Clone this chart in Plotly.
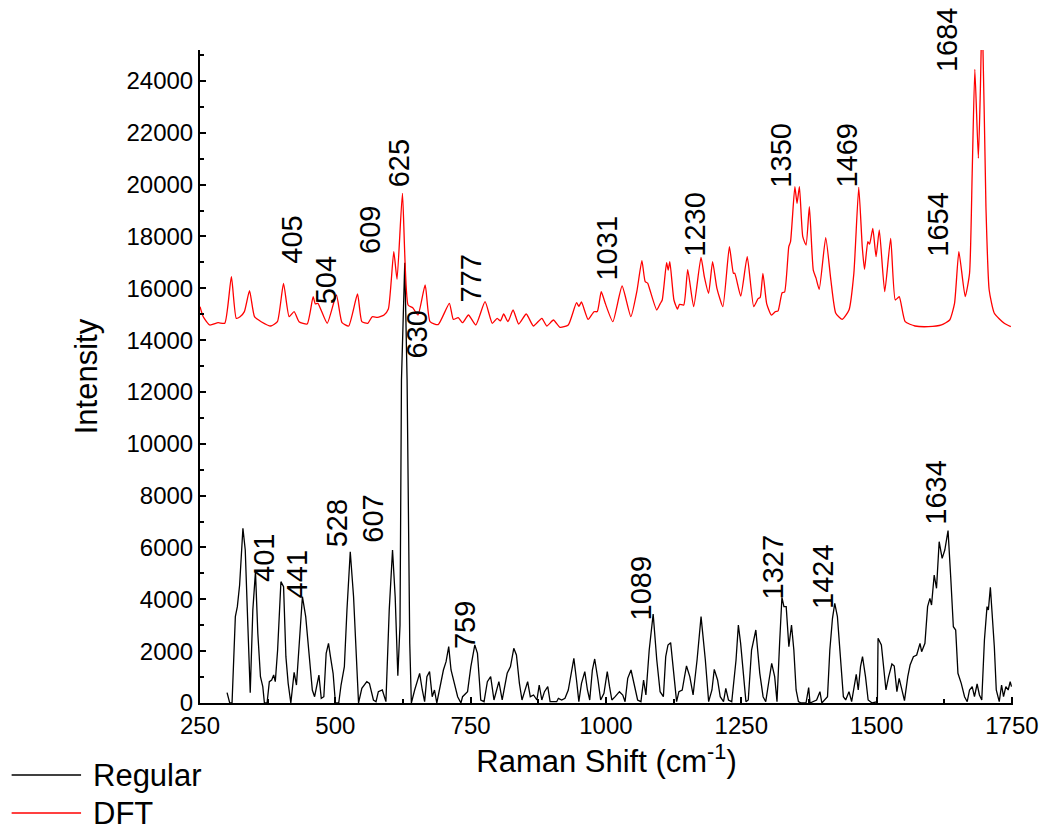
import plotly.graph_objects as go

# ---------------- data ----------------
regular_x = [300.0, 304.9, 309.2, 315.3, 319.0, 323.2, 329.3, 333.6, 338.5, 342.8, 347.6, 352.5, 356.8, 361.7, 366.0,
             369.0, 373.9, 378.1, 382.4, 386.1, 389.1, 393.4, 399.5, 404.4, 408.7, 412.9, 417.8, 423.9, 428.2, 433.1,
             439.2, 445.3, 451.4, 457.5, 461.7, 465.4, 469.7, 474.0, 478.8, 483.1, 487.4, 491.0, 495.9, 500.2, 506.3,
             510.6, 516.7, 521.5, 527.6, 533.7, 539.8, 542.9, 549.0, 558.2, 563.0, 570.4, 575.2, 579.5, 586.8, 593.5,
             599.6, 605.7, 610.6, 615.5, 619.5, 622.2, 628.3, 632.6, 637.5, 640.5, 646.6, 650.9, 655.8, 660.7, 665.0,
             669.2, 674.1, 679.0, 683.2, 687.5, 693.6, 699.7, 704.6, 709.5, 713.8, 719.9, 726.0, 732.1, 735.1, 744.3,
             750.4, 757.7, 762.6, 768.7, 774.8, 780.9, 787.0, 793.1, 802.2, 808.3, 817.5, 823.6, 829.7, 834.6, 840.1,
             844.9, 855.3, 860.2, 866.3, 872.4, 876.7, 881.5, 886.4, 892.5, 896.8, 909.0, 912.1, 918.2, 924.3, 930.4,
             935.2, 940.7, 945.6, 949.9, 954.8, 960.9, 965.8, 970.0, 974.9, 979.2, 985.3, 990.2, 996.3, 1002.4, 1006.6,
             1010.9, 1017.0, 1024.9, 1031.0, 1035.3, 1040.2, 1046.3, 1052.4, 1058.5, 1064.6, 1069.5, 1073.8, 1079.9,
             1087.2, 1093.9, 1100.0, 1106.1, 1110.4, 1114.6, 1119.5, 1125.6, 1130.5, 1134.8, 1140.9, 1145.2, 1148.8,
             1154.9, 1161.0, 1168.3, 1175.7, 1183.6, 1189.7, 1195.8, 1200.1, 1206.2, 1211.1, 1217.2, 1221.4, 1226.3,
             1232.4, 1240.3, 1244.6, 1248.8, 1253.7, 1258.6, 1262.9, 1269.0, 1276.9, 1284.2, 1290.3, 1295.2, 1301.3,
             1306.2, 1311.7, 1316.0, 1320.8, 1325.1, 1328.8, 1333.0, 1337.9, 1342.8, 1347.1, 1351.3, 1355.6, 1360.5,
             1369.6, 1374.5, 1377.0, 1389.2, 1395.3, 1398.9, 1409.3, 1413.6, 1418.5, 1422.7, 1427.6, 1433.7, 1438.6,
             1442.9, 1449.0, 1453.9, 1458.1, 1462.4, 1466.1, 1470.3, 1474.0, 1479.5, 1484.4, 1491.7, 1501.4, 1502.7,
             1508.8, 1513.1, 1517.3, 1522.2, 1528.3, 1532.6, 1537.5, 1541.7, 1546.6, 1551.5, 1557.6, 1561.9, 1568.0,
             1574.1, 1580.2, 1583.2, 1589.3, 1594.2, 1598.5, 1601.5, 1606.4, 1610.7, 1615.6, 1621.1, 1626.0, 1632.0,
             1636.9, 1641.8, 1646.1, 1650.3, 1656.4, 1662.5, 1667.4, 1671.7, 1676.6, 1680.8, 1685.7, 1690.0, 1694.3,
             1699.2, 1704.0, 1706.5, 1710.2, 1714.4, 1717.5, 1721.1, 1726.6, 1730.9, 1734.5, 1738.8, 1743.1, 1746.8,
             1749.2]
regular_y = [399, 0, 0, 3331, 3717, 4552, 6739, 5903, 2945, 399, 3588, 5067, 2688, 1016, 630,
             0, 0, 823, 887, 1080, 823, 2045, 4681, 4488, 1788, 759, 0, 1183, 694, 2045,
             4102, 3331, 2045, 502, 244, 694, 1080, 180, 244, 1916, 2302, 1788, 1145, 0, 0,
             694, 1402, 3588, 5838, 4102, 1016, 0, 566, 823, 759, 116, 51, 437, 502, 51,
             3588, 5903, 4102, 1055, 3000, 12460, 16987, 12460, 2303, 0, 502, 823, 1145, 502, 51,
             1016, 1209, 244, 502, 0, 694, 1273, 1595, 2173, 1273, 759, 244, 0, 244, 437,
             1402, 2238, 1916, 116, 51, 823, 1016, 116, 823, 116, 1145, 1402, 2109, 1852, 759,
             116, 823, 244, 309, 116, 694, 116, 437, 630, 51, 51, 180, 116, 180, 502,
             1016, 1723, 887, 51, 759, 1209, 502, 116, 1273, 1698, 887, 116, 373, 1209, 630,
             116, 244, 437, 309, 51, 952, 1273, 694, 116, 51, 887, 309, 2045,
             3434, 1659, 437, 244, 1788, 2238, 2328, 887, 51, 437, 502, 1016, 1428,
             1016, 309, 1659, 3331, 1659, 51, 502, 1299, 887, 244, 51, 566, 116,
             51, 1659, 3009, 2302, 1016, 51, 116, 2045, 2816, 1145, 244, 51, 887,
             1530, 1016, 51, 2302, 4077, 3717, 3717, 2173, 3009, 2045, 502, 51, 0,
             0, 592, 0, 116, 437, 0, 244, 2045, 3267, 3845, 3331, 1788, 244,
             116, 437, 51, 630, 1106, 502, 1402, 1788, 1016, 116, 0, 51, 2495,
             2238, 1273, 502, 1016, 1505, 1428, 437, 952, 502, 90, 1016, 1466, 1788,
             1852, 2302, 1981, 2302, 3717, 4038, 3781, 4938, 4424, 6224, 5581, 5903, 6649,
             4874, 2945, 2816, 1145, 759, 244, 51, 502, 630, 244, 733, 309, 116,
             2431, 3717, 3588, 4463, 3202, 2173, 502, 51, 694, 244, 630, 502, 823,
             630]

dft_x = [250, 256, 268, 283.5, 295.8, 308, 317, 324, 332, 341.5, 350.7, 363, 381, 393, 404.3, 414.7, 423.9, 433,
         448, 459, 463, 467.8, 485, 502, 512.4, 524.6, 541, 549, 560, 568, 578, 590, 598, 608, 614, 624, 634.4,
         643, 652.7, 666, 675, 690, 710.7, 718, 727, 735, 746, 759.5, 776.6, 790, 799, 805, 811, 819, 828.4,
         838.8, 852.8, 866, 881.5, 890.7, 903, 915, 930.4, 945.6, 950, 954.7, 967, 978, 984, 991.3, 998.7,
         1012.7, 1029.8, 1046, 1057, 1066.4, 1072.5, 1077, 1081, 1093.8, 1100, 1104, 1112, 1115, 1118, 1125.6,
         1132, 1136, 1143.7, 1151, 1162, 1175.6, 1181.7, 1189.6, 1197, 1205, 1216, 1228, 1235.5, 1238, 1249,
         1261, 1273, 1281, 1285, 1290, 1297, 1305.6, 1313, 1318, 1325.5, 1330, 1337.8, 1341, 1349, 1353,
         1357.4, 1363.6, 1369.7, 1375.8, 1383, 1388, 1394, 1406, 1415.5, 1424.6, 1436.7, 1449, 1458, 1467,
         1473.5, 1477.7, 1483.8, 1487, 1493, 1499, 1505, 1515, 1526, 1534.5, 1541.8, 1552.8, 1571, 1595.5,
         1620, 1635, 1644, 1652, 1663.7, 1671.7, 1676.6, 1681.5, 1688, 1691.7, 1695, 1702, 1708, 1717.5,
         1735.8, 1748]
dft_y = [15290, 14900, 14584, 14672, 14650, 16448, 14840, 14900, 15100, 15908, 14904, 14711, 14545, 14711, 16191,
         14904, 15096, 14711, 14622, 15675, 15400, 15420, 14650, 15740, 14672, 14545, 15779, 14711, 14650, 14900,
         14880, 14969, 15200, 17412, 16346, 19664, 15355, 15250, 14969, 16127, 14711, 14600, 15420, 14800, 14870,
         14672, 14969, 14584, 15483, 14650, 14840, 14740, 15008, 14711, 15162, 14622, 15008, 14545, 14840, 14545,
         14776, 14495, 14584, 15445, 15300, 15470, 14800, 15096, 15100, 15868, 15420, 14711, 16088, 14904, 15868,
         17064, 16254, 16200, 15950, 15162, 15400, 15550, 16987, 16700, 17026, 15548, 15200, 15380, 15355, 16717,
         15290, 17194, 16447, 15806, 17026, 15998, 15290, 17604, 16577, 16580, 15700, 17218, 15290, 15600, 15650,
         16577, 15400, 14969, 15100, 15130, 15830, 15850, 17604, 17800, 19920, 19278, 19920, 17990, 17670, 19148,
         16705, 16400, 15960, 17952, 16320, 15035, 14803, 15162, 16577, 19895, 17604, 16730, 17797, 17700, 18312,
         17218, 18248, 15868, 17926, 15548, 15675, 14711, 14545, 14518, 14584, 14776, 15420, 17412, 15675, 16577,
         20437, 24449, 21015, 23650, 26800, 19148, 15933, 15035, 14650, 14518]

regular_labels = ["401", "441", "528", "607", "759", "1089", "1327", "1424", "1634"]
dft_labels = ["405", "504", "609", "625", "630", "777", "1031", "1230", "1350", "1469", "1654", "1684"]

x_ticks = [250, 500, 750, 1000, 1250, 1500, 1750]
y_ticks = [0, 2000, 4000, 6000, 8000, 10000, 12000, 14000, 16000, 18000, 20000, 22000, 24000]

series_names = ["Regular", "DFT"]

# ---------------- layout / style ----------------
FONT = "Liberation Sans, Arial, sans-serif"
# label anchor positions: (x in data units, y in data units or paper units if flagged)
regular_label_pos = [(367.2, 5613, "y"), (429.9, 4977, "y"), (503.2, 6933, "y"), (570.3, 7126, "y"),
                     (739.7, 3009, "y"), (1064.6, 4456, "y"), (1308.6, 5228, "y"), (1399.6, 4873, "y"),
                     (1608.2, 8121, "y")]
dft_label_pos = [(419.9, 17874, "y"), (481.9, 16288, "y"), (563.0, 18268, "y"), (617.6, 20822, "y"),
                 (651.8, 14236, "y"), (751.2, 16385, "y"), (1002.3, 17542, "y"), (1164.0, 18480, "y"),
                 (1322.7, 21142, "y"), (1443.5, 21122, "y"), (1612.8, 18480, "y"), (1630.2, 1.0153, "paper")]

fig = go.Figure()
fig.add_trace(go.Scatter(x=regular_x, y=regular_y, mode="lines", name=series_names[0],
                         line=dict(color="black", width=1.3), showlegend=False))
fig.add_trace(go.Scatter(x=dft_x, y=dft_y, mode="lines", name=series_names[1],
                         line=dict(color="red", width=1.3, shape="spline", smoothing=0.5), showlegend=False))

annotations = []
for txt, (ax_, ay_, yr) in zip(regular_labels + dft_labels, regular_label_pos + dft_label_pos):
    annotations.append(dict(x=ax_, y=ay_, xref="x", yref=yr, text=txt, textangle=-90,
                            showarrow=False, font=dict(family=FONT, size=29, color="black"),
                            xanchor="center", yanchor="middle"))

# manual legend (page body has an 8px offset; figure is sized to fit the window)
legend_rows = [(series_names[0], "black", -0.1103), (series_names[1], "red", -0.1685)]
shapes = []
for name, col, yy in legend_rows:
    shapes.append(dict(type="line", xref="paper", yref="paper", x0=-0.2317, x1=-0.1463, y0=yy, y1=yy,
                       line=dict(color=col, width=1.5)))
    annotations.append(dict(x=-0.1341, y=yy, xref="paper", yref="paper", text=name, showarrow=False,
                            xanchor="left", yanchor="middle", font=dict(family=FONT, size=31, color="black")))

fig.update_layout(
    width=1043, height=823,
    margin=dict(l=192, r=31, t=42, b=128),
    paper_bgcolor="white", plot_bgcolor="white",
    font=dict(family=FONT, color="black"),
    annotations=annotations, shapes=shapes,
    showlegend=False,
)
fig.update_xaxes(range=[250, 1752], tickvals=x_ticks, ticktext=[str(v) for v in x_ticks],
                 showgrid=False, zeroline=False, showline=True, linecolor="black", linewidth=2,
                 ticks="inside", ticklen=6, tickwidth=2, tickcolor="black",
                 minor=dict(dtick=125, tick0=250, ticks="inside", ticklen=4, tickwidth=2, tickcolor="black"),
                 tickfont=dict(size=24, family=FONT),
                 title=dict(text="Raman Shift (cm<sup>-1</sup>)", font=dict(size=31, family=FONT), standoff=12))
fig.update_yaxes(range=[0, 25193], tickvals=y_ticks, ticktext=[str(v) for v in y_ticks],
                 showgrid=False, zeroline=False, showline=True, linecolor="black", linewidth=2,
                 ticks="inside", ticklen=6, tickwidth=2, tickcolor="black",
                 minor=dict(dtick=1000, tick0=0, ticks="inside", ticklen=4, tickwidth=2, tickcolor="black"),
                 tickfont=dict(size=24, family=FONT),
                 title=dict(text="Intensity", font=dict(size=31, family=FONT), standoff=20))

fig.write_html("out.html")
